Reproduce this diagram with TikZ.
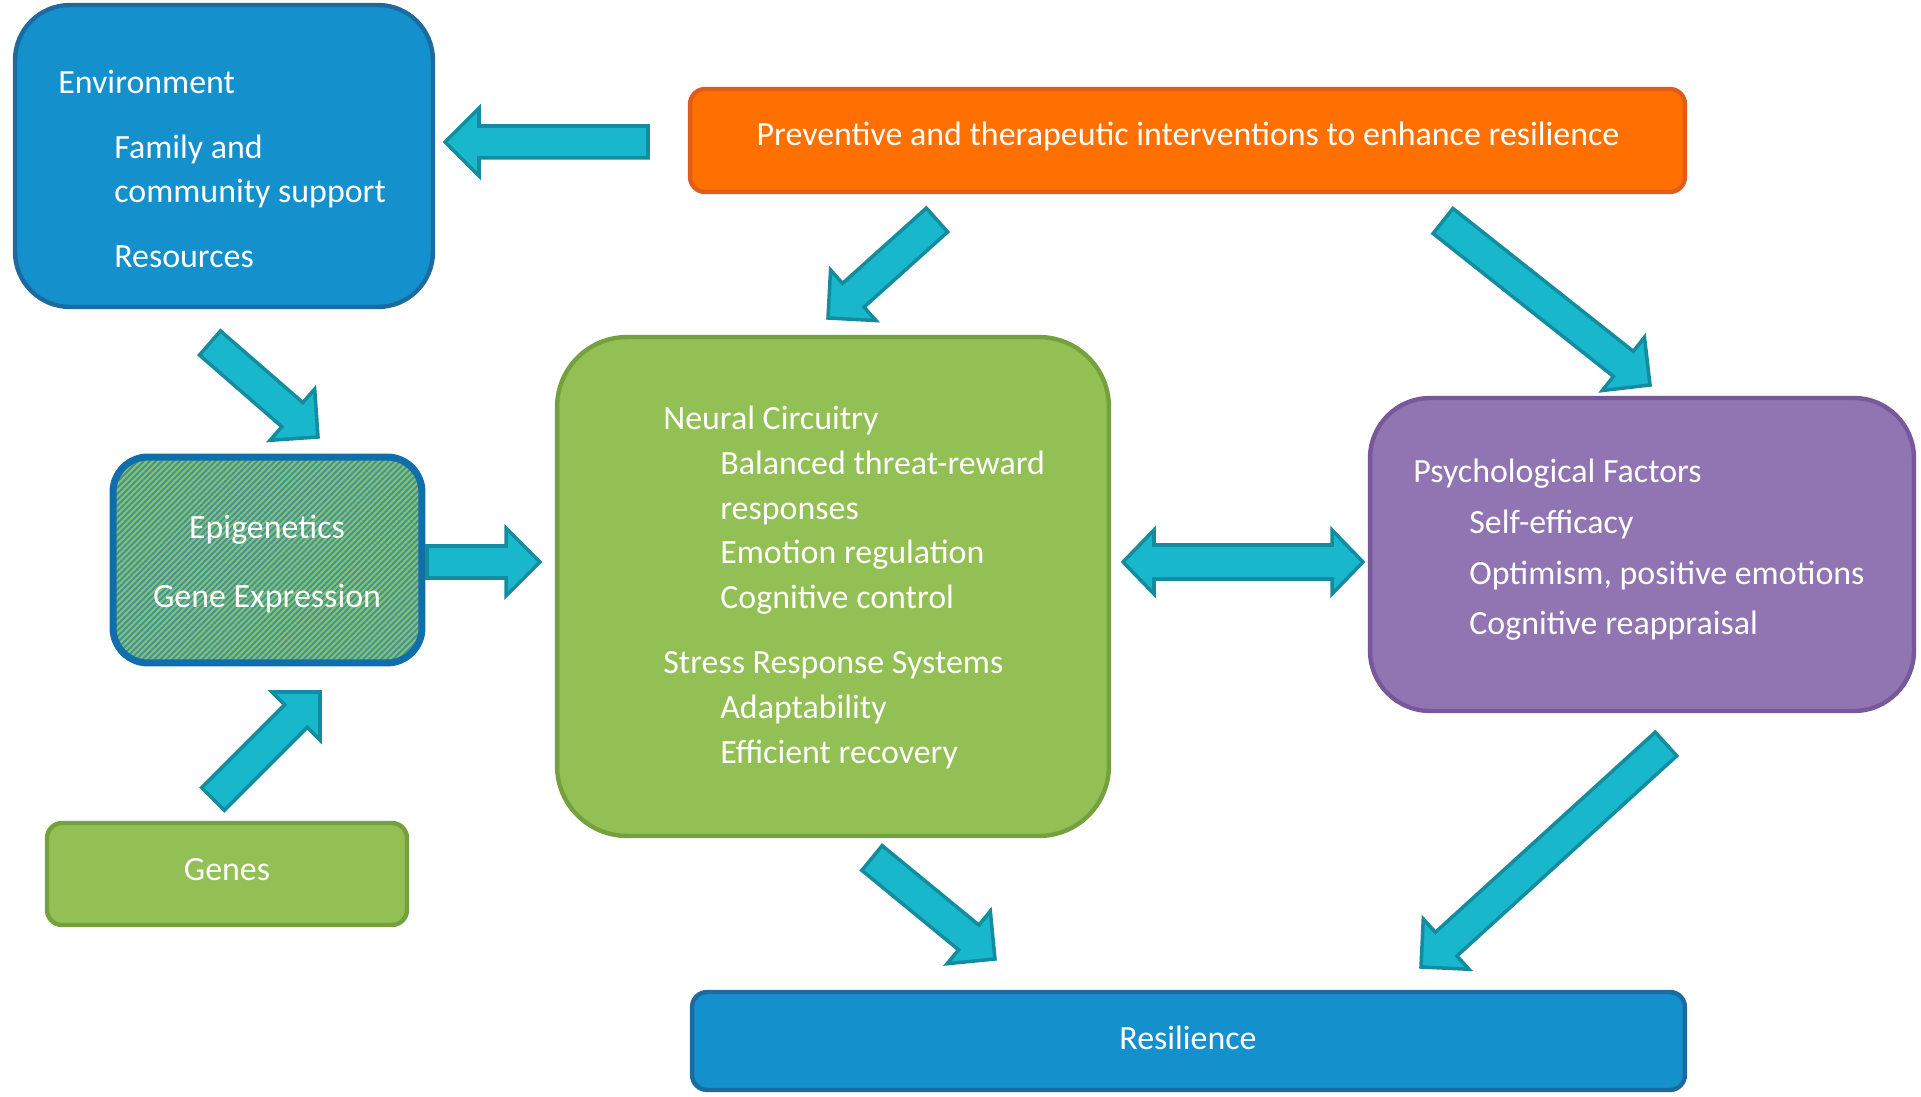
\documentclass[tikz,border=0pt]{standalone}
\usepackage{fontspec}
\setmainfont{Carlito}
\usetikzlibrary{calc,patterns.meta}

\definecolor{envblue}{RGB}{20,144,205}
\definecolor{envline}{RGB}{28,106,160}
\definecolor{prevorange}{RGB}{255,112,0}
\definecolor{prevline}{RGB}{224,92,26}
\definecolor{circgreen}{RGB}{146,192,84}
\definecolor{circline}{RGB}{116,160,62}
\definecolor{psychpurple}{RGB}{145,117,179}
\definecolor{psychline}{RGB}{118,88,155}
\definecolor{epiteal}{RGB}{62,150,150}
\definecolor{epigreen}{RGB}{140,192,112}
\definecolor{epiline}{RGB}{16,110,170}
\definecolor{arrowteal}{RGB}{24,183,204}
\definecolor{arrowline}{RGB}{18,140,158}

\newcommand{\fatarrow}[2]{%
  \coordinate (neck) at ($(#2)!0.68cm!(#1)$);
  \draw[fatarrow] ($(#1)!0.32cm!90:(#2)$) -- ($(neck)!0.32cm!-90:(#1)$) -- ($(neck)!0.68cm!-90:(#1)$) -- (#2) -- ($(neck)!0.68cm!90:(#1)$) -- ($(neck)!0.32cm!90:(#1)$) -- ($(#1)!0.32cm!-90:(#2)$) -- cycle;}
\newcommand{\fatboth}[2]{%
  \coordinate (necka) at ($(#1)!0.62cm!(#2)$);
  \coordinate (neckb) at ($(#2)!0.62cm!(#1)$);
  \draw[fatarrow] (#1) -- ($(necka)!0.64cm!90:(#2)$) -- ($(necka)!0.34cm!90:(#2)$) -- ($(neckb)!0.34cm!-90:(#1)$) -- ($(neckb)!0.64cm!-90:(#1)$) -- (#2) -- ($(neckb)!0.64cm!90:(#1)$) -- ($(neckb)!0.34cm!90:(#1)$) -- ($(necka)!0.34cm!-90:(#2)$) -- ($(necka)!0.64cm!-90:(#2)$) -- cycle;}

\tikzset{
  box/.style={draw, line width=2.5pt, rounded corners=#1, inner sep=0pt},
  box/.default=0.3cm,
  txt/.style={text=white, inner sep=0pt, align=left, font=\fontsize{19.3}{25.4}\selectfont},
  fatarrow/.style={fill=arrowteal, draw=arrowline, line width=2pt, line join=miter}
}

\begin{document}
\begin{tikzpicture}[x=0.02cm, y=-0.02cm]
  \useasboundingbox (0,0) rectangle (1921,1097);
  \node[box=1.1cm, fill=envblue, draw=envline, minimum width=8.36cm, minimum height=6.04cm] (env) at (224,156) {};
  \node[box, fill=prevorange, draw=prevline, minimum width=19.9cm, minimum height=2.06cm] (prev) at (1187.5,140.5) {};
  \node[box=1.4cm, fill=circgreen, draw=circline, minimum width=11.04cm, minimum height=9.98cm] (circ) at (833,586.5) {};
  \node[box=0.7cm, preaction={fill=epiteal}, pattern={Lines[angle=45, distance=2.4pt, line width=1.1pt]}, pattern color=epigreen, draw=epiline, line width=4pt, minimum width=6.18cm, minimum height=4.12cm] (epi) at (267.5,560) {};
  \node[box, fill=circgreen, draw=circline, minimum width=7.2cm, minimum height=2.04cm] (genes) at (227,874) {};
  \node[box=1.2cm, fill=psychpurple, draw=psychline, minimum width=10.88cm, minimum height=6.26cm] (psych) at (1642,554.5) {};
  \node[box, fill=envblue, draw=envline, minimum width=19.86cm, minimum height=1.96cm] (resil) at (1188.5,1041) {};

  \node[txt, anchor=west] (envtext) at (58,169) {Environment\\[0.4cm]\hspace*{1.12cm}Family and\\\hspace*{1.12cm}community support\\[0.4cm]\hspace*{1.12cm}Resources};
  \node[txt] (prevtext) at (1188,136) {Preventive and therapeutic interventions to enhance resilience};
  \node[txt, anchor=west] (circtext) at (663,587.5) {Neural Circuitry\\\hspace*{1.14cm}Balanced threat-reward\\\hspace*{1.14cm}responses\\\hspace*{1.14cm}Emotion regulation\\\hspace*{1.14cm}Cognitive control\\[0.42cm]Stress Response Systems\\\hspace*{1.14cm}Adaptability\\\hspace*{1.14cm}Efficient recovery};
  \node[txt, align=center] (epitext) at (267,564) {Epigenetics\\[0.5cm]Gene Expression};
  \node[txt] (genestext) at (227,870) {Genes};
  \node[txt, anchor=west] (psychtext) at (1413,550) {Psychological Factors\\[0.12cm]\hspace*{1.12cm}Self-efficacy\\[0.12cm]\hspace*{1.12cm}Optimism, positive emotions\\[0.12cm]\hspace*{1.12cm}Cognitive reappraisal};
  \node[txt] (resiltext) at (1188,1038) {Resilience};

  \coordinate (prevw) at (648,142);
  \coordinate (envr) at (445,142);
  \coordinate (prevs1) at (937,220);
  \coordinate (circn) at (828,318);
  \coordinate (prevs2) at (1443,221);
  \coordinate (psychn) at (1650,385);
  \coordinate (envs) at (210,343);
  \coordinate (epin) at (318,437);
  \coordinate (geness) at (213,799);
  \coordinate (epis) at (320,692);
  \coordinate (epie) at (427,562);
  \coordinate (circw) at (540,562);
  \coordinate (circe) at (1123,562);
  \coordinate (psychw) at (1363,562);
  \coordinate (circs) at (872,858);
  \coordinate (resn1) at (995,959);
  \coordinate (psychs) at (1666,744);
  \coordinate (resn2) at (1421,967);

  \fatarrow{prevw}{envr}
  \fatarrow{prevs1}{circn}
  \fatarrow{prevs2}{psychn}
  \fatarrow{envs}{epin}
  \fatarrow{geness}{epis}
  \fatarrow{epie}{circw}
  \fatboth{circe}{psychw}
  \fatarrow{circs}{resn1}
  \fatarrow{psychs}{resn2}
\end{tikzpicture}
\end{document}
